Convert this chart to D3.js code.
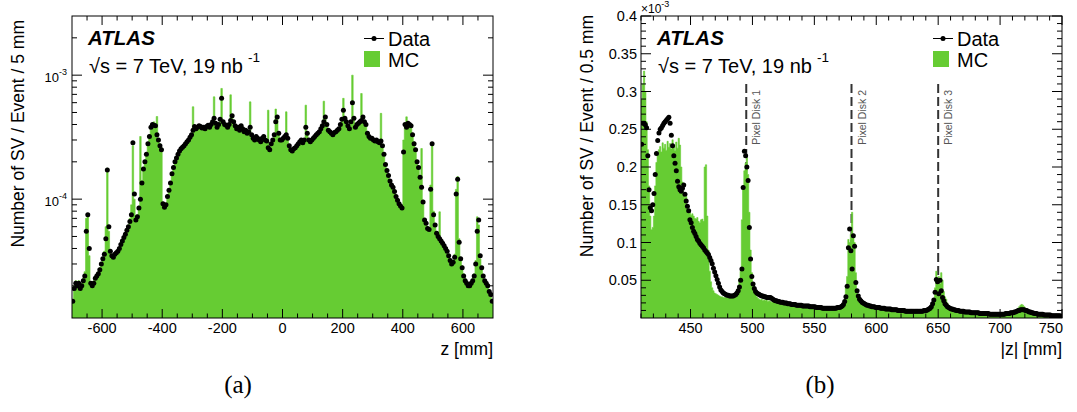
<!DOCTYPE html>
<html><head><meta charset="utf-8">
<script src="https://cdn.jsdelivr.net/npm/d3@7"></script>
<style>
body{margin:0;background:#fff}
svg{display:block}
text{font-family:"Liberation Sans",Arial,Helvetica,sans-serif;fill:#000}
</style>
</head><body>
<svg id="c" width="1077" height="412"></svg>
<script>
// ---------------- DATA (values in units of 1e-6 per event) ----------------
// Panel (a): z from -700 to 700 mm, 5 mm bins
const leftBinLo = -700, leftBinWidth = 5;
const leftData = [
15,19,21,20,21,19,20,22,24,55,
75,40,21,20,21,23,24,25,27,30,
33,36,48,172,60,38,35,34,36,37,
38,40,43,46,49,52,56,60,66,75,
285,110,68,72,85,100,135,175,200,230,
280,320,380,400,395,390,330,300,270,250,
92,86,90,105,118,135,160,180,200,215,
230,245,255,262,270,280,290,300,315,330,
360,385,370,380,390,385,375,380,370,385,
395,380,400,420,450,410,380,400,440,650,
420,400,395,380,400,430,470,420,390,370,
380,360,390,370,350,360,340,350,380,330,
310,300,320,310,300,290,310,320,300,295,
260,250,280,300,330,420,460,340,300,300,
310,320,330,310,270,250,245,255,260,270,
280,290,300,285,300,380,340,300,290,300,
310,320,330,340,350,370,390,420,460,400,
360,350,340,330,345,350,360,370,400,440,
520,450,420,390,370,420,600,450,380,400,
410,420,430,460,420,400,340,320,310,310,
300,295,300,290,285,295,270,230,190,170,
155,140,130,125,115,105,98,92,88,85,
240,400,380,410,400,390,330,280,250,200,
180,150,125,95,68,64,58,57,120,280,
75,62,53,50,48,46,44,42,40,38,
35,32,30,31,34,110,145,45,33,28,
24,22,21,20,20,21,22,24,30,55,
68,35,28,24,22,21,20,18,17,15];
const leftMC = [
15,20,22,21,22,20,21,23,26,70,
72,35,21,21,22,23,25,26,28,31,
34,38,60,178,55,37,35,35,37,38,
39,41,44,47,50,53,57,62,70,90,
270,100,70,75,88,320,140,180,205,235,
285,330,390,400,420,400,464,310,280,260,
95,88,92,108,120,138,165,185,205,220,
235,250,258,265,275,285,295,305,320,340,
556,390,375,385,390,390,380,385,375,390,
400,385,405,430,669,415,390,405,450,781,
430,405,400,390,410,694,460,420,395,375,
385,365,390,375,355,365,345,355,609,335,
315,305,320,315,305,295,310,320,305,300,
522,255,285,305,335,533,450,340,305,300,
310,320,506,315,275,255,250,258,262,272,
282,292,302,290,305,573,345,305,295,305,
315,325,335,345,355,375,395,617,455,405,
365,355,345,335,350,355,365,375,405,445,
650,455,425,395,380,430,1000,460,390,405,
415,425,711,455,425,405,345,325,315,315,
305,300,305,295,290,492,275,235,195,175,
158,143,133,127,118,108,100,94,90,87,
300,400,461,415,405,395,340,290,255,205,
185,150,256,98,70,66,60,58,130,270,
80,63,55,52,79,47,45,43,41,39,
36,33,31,32,36,120,152,48,34,29,
25,23,22,21,21,22,23,25,32,72,
62,33,27,24,22,21,20,18,17,15];

// Panel (b): |z| from 410 to 750 mm, 1 mm bins
const rightBinLo = 410, rightBinWidth = 1;
const rightData = [
230,258,258,256,252,215,170,146,142,150,
165,190,218,235,245,250,252,255,258,260,
262,264,266,258,242,228,215,205,195,181,
174,170,168,172,176,164,155,148,142,130,
126,120,115,112,108,104,102,99,97,95,
93,90,88,86,84,80,76,72,66,61,
56,51,46,41,37,35,33,32,31,30,
30,29,29,29,29,30,31,33,36,41,
50,65,173,221,215,200,182,120,78,55,
45,39,35,33,32,31,30,29,29,28,
28,27,27,27,27,26,25,24,23,23,
22,22,21,21,21,20,20,20,19,19,
19,18,18,18,18,17,17,17,17,17,
16,16,16,16,16,16,15,15,15,15,
15,14,14,14,14,14,13,13,13,13,
13,13,13,13,13,13,13,13,14,14,
14,15,16,18,22,28,42,93,118,89,
65,109,95,47,36,29,25,23,21,20,
19,18,17,17,16,16,15,15,15,14,
14,14,14,13,13,13,13,12,12,12,
12,12,11,11,11,11,11,10,10,10,
10,10,10,9,9,9,9,9,9,9,
9,9,9,9,9,9,9,9,10,10,
10,11,12,13,15,19,24,34,51,48,
32,50,36,27,23,19,17,15,14,13,
12,12,11,11,10,10,10,9,9,9,
9,8,8,8,8,8,7,7,7,7,
7,7,7,6,6,6,6,6,6,6,
6,5,5,5,5,5,5,5,5,5,
5,5,5,5,6,6,6,6,7,7,
7,8,8,9,10,10,11,11,11,11,
10,10,9,8,8,7,7,6,6,6,
5,5,5,5,5,4,4,4,4,4,
4,3,3,3,3,3,3,3,3,2];
const rightMC = [
289,310,327,300,260,223,175,135,117,120,
135,175,206,218,223,227,220,232,225,230,
222,234,226,231,224,236,228,222,233,225,
238,229,200,180,165,160,161,150,144,140,
136,138,135,132,131,133,128,126,130,131,
128,200,203,135,90,62,48,40,36,33,
32,31,30,29,28,28,27,27,27,27,
27,27,27,28,29,30,32,35,40,52,
62,130,175,195,205,212,190,140,90,60,
45,36,31,28,26,25,24,25,23,24,
23,24,22,23,22,21,22,21,20,21,
21,20,20,19,20,19,19,18,19,18,
18,17,18,17,17,16,17,16,16,16,
16,15,16,15,15,15,15,14,15,14,
14,14,14,13,14,13,13,13,13,13,
13,12,13,12,13,13,13,13,14,14,
15,15,17,20,25,40,55,104,100,111,
140,108,100,60,38,28,24,21,20,19,
18,17,17,16,16,15,15,15,14,14,
14,13,14,13,13,12,13,12,12,12,
11,12,11,11,11,10,11,10,10,10,
10,10,9,10,9,9,9,9,9,9,
9,9,9,9,9,9,9,9,10,10,
10,11,12,13,15,19,25,40,62,50,
55,45,60,50,35,28,25,20,17,15,
14,13,12,11,11,10,10,9,9,9,
9,8,8,8,8,8,7,7,7,7,
7,7,7,6,6,6,6,6,6,6,
6,5,5,5,5,5,5,5,5,5,
5,5,5,6,6,6,6,7,7,8,
8,9,10,11,13,15,17,18,17,15,
13,11,10,9,8,7,7,6,6,6,
5,5,5,5,5,4,4,4,4,4,
4,3,3,3,3,3,3,3,3,2];

// Tick labels / annotations
const leftXTicks = [-600,-400,-200,0,200,400,600];
const leftYTickExp = [-4,-3];
const rightXTicks = [450,500,550,600,650,700,750];
const rightYTicks = [50,100,150,200,250,300,350,400];
const rightYTickLabels = ["0.05","0.1","0.15","0.2","0.25","0.3","0.35","0.4"];
const disks = [495,580,650];
const diskLabels = ["Pixel Disk 1","Pixel Disk 2","Pixel Disk 3"];
const diskTop = 310;

// ---------------- DRAWING ----------------
const svg = d3.select("#c");
const TOP = 16, BOT = 318;
const GREEN = "#66cc33";

function stepPts(lo, w, vals){
  const p = vals.map((v,i)=>[lo+i*w, v]);
  p.push([lo+vals.length*w, vals[vals.length-1]]);
  return p;
}

function panel(cfg){
  const g = svg.append("g");
  const x = d3.scaleLinear().domain(cfg.xDomain).range([cfg.x0, cfg.x1]);
  const y = (cfg.log ? d3.scaleLog() : d3.scaleLinear()).domain(cfg.yDomain).range([BOT, TOP]);
  const cid = "clip" + cfg.id;
  svg.append("clipPath").attr("id", cid).append("rect")
    .attr("x", cfg.x0).attr("y", TOP).attr("width", cfg.x1-cfg.x0).attr("height", BOT-TOP);
  const plot = g.append("g").attr("clip-path", `url(#${cid})`);

  // disk lines (behind MC)
  if (cfg.disks){
    cfg.disks.forEach((d,i)=>{
      plot.append("line").attr("x1", x(d)).attr("x2", x(d))
        .attr("y1", y(diskTop)).attr("y2", BOT)
        .attr("stroke", "#333").attr("stroke-width", 2).attr("stroke-dasharray", "9,4");
      g.append("text").attr("transform", `translate(${x(d)+14},90) rotate(-90)`)
        .attr("text-anchor", "end").attr("font-size", 10.5).style("fill", "#555")
        .text(cfg.diskLabels[i]);
    });
  }

  // MC filled histogram
  const area = d3.area().x(d=>x(d[0])).y0(BOT).y1(d=>y(Math.max(d[1], cfg.yDomain[0]))).curve(d3.curveStepAfter);
  plot.append("path").datum(stepPts(cfg.lo, cfg.w, cfg.mc)).attr("d", area)
    .attr("fill", GREEN).attr("stroke", GREEN).attr("stroke-width", 0.6);

  // Data points
  plot.append("g").selectAll("circle").data(cfg.data).join("circle")
    .attr("cx", (d,i)=>x(cfg.lo + (i+0.5)*cfg.w))
    .attr("cy", d=>y(d)).attr("r", 2.5).attr("fill", "#000");

  // ticks
  const tk = g.append("g").attr("stroke", "#000").attr("stroke-width", 1);
  function xt(v, len){
    tk.append("line").attr("x1", x(v)).attr("x2", x(v)).attr("y1", BOT).attr("y2", BOT-len);
    tk.append("line").attr("x1", x(v)).attr("x2", x(v)).attr("y1", TOP).attr("y2", TOP+len);
  }
  function yt(v, len){
    tk.append("line").attr("y1", y(v)).attr("y2", y(v)).attr("x1", cfg.x0).attr("x2", cfg.x0+len);
    tk.append("line").attr("y1", y(v)).attr("y2", y(v)).attr("x1", cfg.x1).attr("x2", cfg.x1-len);
  }
  cfg.xMinor.forEach(v=>xt(v, 4.5));
  cfg.xMajor.forEach(v=>xt(v, 9));
  cfg.yMinor.forEach(v=>yt(v, 5));
  cfg.yMajor.forEach(v=>yt(v, 10));

  // x tick labels
  cfg.xMajor.forEach((v,i)=>{
    const last = (v === cfg.xDomain[1]);
    g.append("text").attr("x", last ? cfg.x1+1 : x(v)).attr("y", 333)
      .attr("text-anchor", last ? "end" : "middle").attr("font-size", 14.5).text(cfg.xLabels[i]);
  });
  // y tick labels
  cfg.yMajor.forEach((v,i)=>{
    if (cfg.log){
      const t = g.append("text").attr("x", cfg.x0-5).attr("y", y(v)+7)
        .attr("text-anchor", "end").attr("font-size", 13).text("10");
      t.append("tspan").attr("dy", -7).attr("font-size", 9).text(String(cfg.yExp[i]));
    } else {
      g.append("text").attr("x", cfg.x0-4).attr("y", y(v)+5)
        .attr("text-anchor", "end").attr("font-size", 14.5).text(cfg.yLabels[i]);
    }
  });

  // frame
  g.append("rect").attr("x", cfg.x0).attr("y", TOP).attr("width", cfg.x1-cfg.x0).attr("height", BOT-TOP)
    .attr("fill", "none").attr("stroke", "#000").attr("stroke-width", 1);

  // axis titles
  g.append("text").attr("x", cfg.x1).attr("y", 355).attr("text-anchor", "end")
    .attr("font-size", 17.5).text(cfg.xTitle);
  g.append("text").attr("transform", `translate(${cfg.x0-48},${cfg.yTitleEnd}) rotate(-90)`)
    .attr("text-anchor", "end").attr("font-size", 17.5).text(cfg.yTitle);

  // ATLAS label
  const ox = cfg.x0 - 72;
  g.append("text").attr("x", 88+ox).attr("y", 45).attr("font-size", 20.5)
    .attr("font-weight", "bold").attr("font-style", "italic").text("ATLAS");
  const e = g.append("text").attr("x", 89+ox).attr("y", 73).attr("font-size", 20).text("\u221As = 7 TeV, 19 nb");
  e.append("tspan").attr("dx", 5).attr("dy", -11).attr("font-size", 13.5).text("-1");

  // legend
  g.append("line").attr("x1", 364+ox).attr("x2", 384+ox).attr("y1", 38.5).attr("y2", 38.5)
    .attr("stroke", "#000").attr("stroke-width", 1);
  g.append("circle").attr("cx", 374+ox).attr("cy", 38.5).attr("r", 2.5).attr("fill", "#000");
  g.append("text").attr("x", 388+ox).attr("y", 45.5).attr("font-size", 20).text("Data");
  g.append("rect").attr("x", 364+ox).attr("y", 51).attr("width", 16).attr("height", 16).attr("fill", GREEN);
  g.append("text").attr("x", 388+ox).attr("y", 67).attr("font-size", 20).text("MC");

  // panel caption
  svg.append("text").attr("x", cfg.capX).attr("y", 393).attr("text-anchor", "middle")
    .attr("font-size", 25).style("font-family", "'Liberation Serif','Times New Roman',serif").text(cfg.caption);
  return {x, y, g};
}

// Panel (a)
const logMinor = [];
[-5,-4,-3].forEach(e=>{ for (let k=2;k<=9;k++){ const v = k*Math.pow(10, e+6); if (v>11 && v<3000) logMinor.push(v); } });
panel({
  id: "a", x0: 72, x1: 493, xDomain: [-700, 700], yDomain: [11, 3000], log: true,
  lo: leftBinLo, w: leftBinWidth, data: leftData, mc: leftMC,
  xMajor: leftXTicks, xLabels: leftXTicks.map(String),
  xMinor: d3.range(-650, 700, 50).filter(v=>!leftXTicks.includes(v)),
  yMajor: leftYTickExp.map(e=>Math.pow(10, e+6)), yExp: leftYTickExp,
  yMinor: logMinor,
  xTitle: "z [mm]", yTitle: "Number of SV / Event / 5 mm", yTitleEnd: 20,
  capX: 238, caption: "(a)"
});

// Panel (b)
panel({
  id: "b", x0: 641, x1: 1062, xDomain: [410, 750], yDomain: [0, 400], log: false,
  lo: rightBinLo, w: rightBinWidth, data: rightData, mc: rightMC,
  xMajor: rightXTicks, xLabels: rightXTicks.map(String),
  xMinor: d3.range(410, 751, 10).filter(v=>!rightXTicks.includes(v)),
  yMajor: rightYTicks, yLabels: rightYTickLabels,
  yMinor: d3.range(10, 400, 10).filter(v=>!rightYTicks.includes(v)),
  disks: disks, diskLabels: diskLabels,
  xTitle: "|z| [mm]", yTitle: "Number of SV / Event / 0.5 mm", yTitleEnd: 15,
  capX: 820, caption: "(b)"
});
const mult = svg.append("text").attr("x", 641).attr("y", 13).attr("font-size", 12).text("\u00D710");
mult.append("tspan").attr("dy", -6).attr("font-size", 9).text("-3");
</script>
</body></html>
